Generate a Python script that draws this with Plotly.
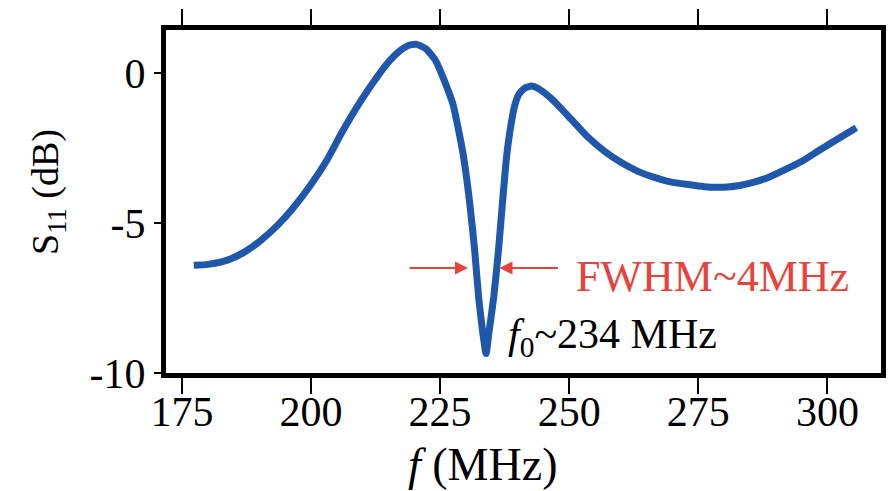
import plotly.graph_objects as go

# Frequency (MHz) and S11 (dB)
freq = [177.3, 180.0, 183.8, 187.0, 190.2, 193.5, 196.5, 200.0, 203.1, 206.0,
        209.4, 212.0, 214.6, 217.1, 219.0, 220.5, 222.3, 224.2, 225.8, 227.5,
        229.4, 230.7, 231.7, 232.5, 233.3, 233.9, 234.5, 235.4, 236.3, 237.1,
        237.9, 238.8, 239.5, 240.3, 241.4, 242.7, 244.0, 246.5, 248.5, 250.4,
        253.5, 256.9, 260.0, 263.3, 266.5, 269.6, 273.0, 276.2, 278.5, 280.6,
        283.0, 285.8, 289.0, 292.1, 295.5, 298.5, 302.0, 305.6]
s11 = [-6.41, -6.38, -6.24, -5.98, -5.59, -5.08, -4.51, -3.72, -2.90, -1.98,
       -1.00, -0.33, 0.28, 0.72, 0.92, 0.95, 0.80, 0.39, -0.25, -1.05,
       -2.65, -4.28, -5.92, -7.55, -8.70, -9.35, -8.60, -7.45, -5.92, -4.28,
       -2.75, -1.65, -1.05, -0.70, -0.50, -0.44, -0.52, -0.85, -1.20, -1.55,
       -2.12, -2.62, -2.98, -3.28, -3.48, -3.63, -3.72, -3.79, -3.81, -3.80,
       -3.75, -3.64, -3.45, -3.20, -2.90, -2.57, -2.20, -1.83]

x_ticks = [175, 200, 225, 250, 275, 300]
y_ticks = [-10, -5, 0]
y_ticktext = ["-10", "-5", "0"]
x_range = [171.92, 310.38]
y_range = [-10.0, 1.43]

fwhm_arrow_y = -6.5
fwhm_left = [218.8, 230.4]   # tail, head
fwhm_right = [248.1, 236.5]  # tail, head

SERIF = "Liberation Serif, Times New Roman, serif"
BLUE = "rgb(31,88,170)"
RED = "rgb(232,66,60)"

fig = go.Figure()
fig.add_trace(go.Scatter(x=freq, y=s11, mode="lines",
                         line=dict(color=BLUE, width=7, shape="spline", smoothing=0.5),
                         showlegend=False, hoverinfo="skip"))

annotations = []
for tail, head in (fwhm_left, fwhm_right):
    annotations.append(dict(x=head, y=fwhm_arrow_y, ax=tail, ay=fwhm_arrow_y,
                            xref="x", yref="y", axref="x", ayref="y",
                            text="", showarrow=True, arrowhead=2, arrowsize=1.3,
                            arrowwidth=2, arrowcolor=RED))
annotations.append(dict(x=251.0, y=-6.8, xref="x", yref="y", xanchor="left",
                        yanchor="middle", text="FWHM~4MHz", showarrow=False,
                        font=dict(family=SERIF, size=44, color=RED)))
annotations.append(dict(x=237.7, y=-8.8, xref="x", yref="y", xanchor="left",
                        yanchor="middle", text="<i>f</i><sub>0</sub>~234 MHz",
                        showarrow=False,
                        font=dict(family=SERIF, size=42, color="black")))
annotations.append(dict(x=0.443, y=-0.268, xref="paper", yref="paper",
                        xanchor="center", yanchor="middle",
                        text="<i>f</i> (MHz)", showarrow=False,
                        font=dict(family=SERIF, size=46, color="black")))
annotations.append(dict(x=-0.165, y=0.528, xref="paper", yref="paper",
                        xanchor="center", yanchor="middle", textangle=-90,
                        text="S<sub>11</sub> (dB)", showarrow=False,
                        font=dict(family=SERIF, size=38, color="black")))

fig.update_layout(
    width=890, height=491,
    margin=dict(l=166, r=4, t=30, b=118),
    paper_bgcolor="white", plot_bgcolor="white",
    annotations=annotations,
    xaxis=dict(range=x_range, tickvals=x_ticks, ticks="outside", ticklen=16,
               tickwidth=2, tickcolor="black", showline=True, linewidth=5,
               linecolor="black", mirror="ticks", showgrid=False, zeroline=False,
               ticklabelstandoff=-18,
               tickfont=dict(family=SERIF, size=42, color="black")),
    yaxis=dict(range=y_range, tickvals=y_ticks, ticktext=y_ticktext,
               ticks="outside", ticklen=7,
               tickwidth=2, tickcolor="black", showline=True, linewidth=5,
               linecolor="black", mirror=True, showgrid=False, zeroline=False,
               tickfont=dict(family=SERIF, size=42, color="black")),
)

fig.write_html("out.html")
